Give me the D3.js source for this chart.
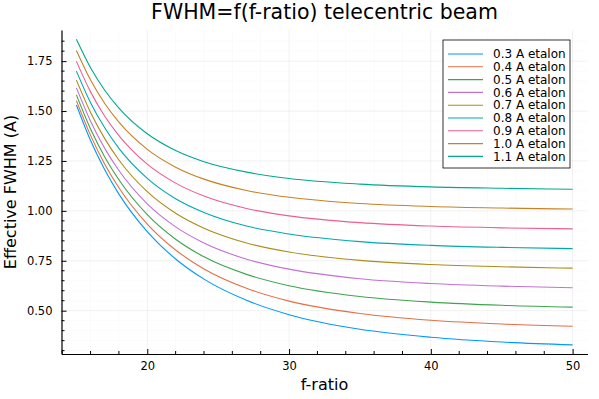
<!DOCTYPE html>
<html lang="en">
	<head>
		<meta charset="utf-8">
		<title>FWHM=f(f-ratio) telecentric beam</title>
		<script type="text/javascript" src="https://cdn.jsdelivr.net/npm/d3@7"></script>
		<style type="text/css">
			body { margin: 0; background: #fff; }
			text { font-family: "DejaVu Sans", sans-serif; fill: #000; }
		</style>
	</head>
	<body>
		<script type="text/javascript">
			//Width and height
			var w = 599;
			var h = 399;

			// f-ratio sample points
			var fRatio = [15, 16, 17, 18, 20, 22, 24, 27, 30, 35, 40, 45, 50];

			// effective FWHM per etalon
			var etalon03 = [1.530, 1.352, 1.206, 1.084, 0.896, 0.759, 0.658, 0.552, 0.480, 0.407, 0.367, 0.343, 0.329];
			var etalon04 = [1.552, 1.378, 1.234, 1.116, 0.934, 0.804, 0.709, 0.612, 0.548, 0.486, 0.452, 0.433, 0.422];
			var etalon05 = [1.581, 1.410, 1.270, 1.156, 0.981, 0.858, 0.770, 0.682, 0.625, 0.571, 0.543, 0.527, 0.518];
			var etalon06 = [1.616, 1.449, 1.313, 1.202, 1.035, 0.920, 0.839, 0.758, 0.708, 0.660, 0.636, 0.623, 0.615];
			var etalon07 = [1.655, 1.493, 1.362, 1.255, 1.096, 0.988, 0.913, 0.839, 0.794, 0.752, 0.731, 0.720, 0.713];
			var etalon08 = [1.700, 1.542, 1.416, 1.313, 1.163, 1.061, 0.992, 0.924, 0.884, 0.846, 0.827, 0.817, 0.811];
			var etalon09 = [1.749, 1.596, 1.474, 1.377, 1.234, 1.139, 1.074, 1.012, 0.975, 0.941, 0.924, 0.915, 0.910];
			var etalon10 = [1.803, 1.655, 1.538, 1.444, 1.308, 1.219, 1.159, 1.102, 1.068, 1.037, 1.022, 1.014, 1.009];
			var etalon11 = [1.860, 1.717, 1.604, 1.515, 1.386, 1.302, 1.246, 1.194, 1.162, 1.134, 1.120, 1.113, 1.108];

			var seriesNames = ["0.3 A etalon", "0.4 A etalon", "0.5 A etalon", "0.6 A etalon", "0.7 A etalon",
			                   "0.8 A etalon", "0.9 A etalon", "1.0 A etalon", "1.1 A etalon"];
			var seriesValues = [etalon03, etalon04, etalon05, etalon06, etalon07, etalon08, etalon09, etalon10, etalon11];

			var xTicks = [20, 30, 40, 50];
			var yTicks = [0.50, 0.75, 1.00, 1.25, 1.50, 1.75];

			var palette = ["#009AFA", "#E36F47", "#3EA44E", "#C371D2", "#AC8D18",
			               "#00A9AD", "#ED5E93", "#C68225", "#00A98D"];

			// plot area
			var plotLeft = 61.5, plotRight = 587.5, plotTop = 30, plotBottom = 354;

			var xMin = d3.min(fRatio), xMax = d3.max(fRatio);
			var yMin = d3.min(seriesValues, function(s) { return d3.min(s); });
			var yMax = d3.max(seriesValues, function(s) { return d3.max(s); });
			var xPad = (xMax - xMin) * 0.03, yPad = (yMax - yMin) * 0.03;

			var x = d3.scaleLinear().domain([xMin - xPad, xMax + xPad]).range([plotLeft, plotRight]);
			var y = d3.scaleLinear().domain([yMin - yPad, yMax + yPad]).range([plotBottom, plotTop]);

			var svg = d3.select("body")
						.append("svg")
						.attr("width", w)
						.attr("height", h);

			// minor grid
			var xMinor = d3.range(14, 52, 2).filter(function(v) { return xTicks.indexOf(v) < 0 && v > x.domain()[0] && v < x.domain()[1]; });
			var yMinor = d3.range(0.30, 1.90, 0.05).map(function(v) { return +v.toFixed(2); })
							.filter(function(v) { return yTicks.indexOf(v) < 0 && v > y.domain()[0] && v < y.domain()[1]; });

			svg.append("g").selectAll("line")
				.data(xMinor).enter().append("line")
				.attr("x1", function(d) { return x(d); }).attr("x2", function(d) { return x(d); })
				.attr("y1", plotTop).attr("y2", plotBottom)
				.style("stroke", "#000").style("stroke-opacity", 0.04).style("stroke-width", 0.6);
			svg.append("g").selectAll("line")
				.data(yMinor).enter().append("line")
				.attr("y1", function(d) { return y(d); }).attr("y2", function(d) { return y(d); })
				.attr("x1", plotLeft).attr("x2", plotRight)
				.style("stroke", "#000").style("stroke-opacity", 0.04).style("stroke-width", 0.6);

			// major grid
			svg.append("g").selectAll("line")
				.data(xTicks).enter().append("line")
				.attr("x1", function(d) { return x(d); }).attr("x2", function(d) { return x(d); })
				.attr("y1", plotTop).attr("y2", plotBottom)
				.style("stroke", "#000").style("stroke-opacity", 0.1).style("stroke-width", 0.6);
			svg.append("g").selectAll("line")
				.data(yTicks).enter().append("line")
				.attr("y1", function(d) { return y(d); }).attr("y2", function(d) { return y(d); })
				.attr("x1", plotLeft).attr("x2", plotRight)
				.style("stroke", "#000").style("stroke-opacity", 0.1).style("stroke-width", 0.6);

			// curves
			var line = d3.line()
						.x(function(d, i) { return x(fRatio[i]); })
						.y(function(d) { return y(d); })
						.curve(d3.curveMonotoneX);

			svg.append("g").selectAll("path")
				.data(seriesValues).enter().append("path")
				.attr("d", line)
				.style("fill", "none")
				.style("stroke", function(d, i) { return palette[i]; })
				.style("stroke-width", 1.1);

			// axes
			var xAxis = d3.axisBottom(x).tickValues(xTicks).tickSizeInner(-5).tickSizeOuter(0).tickPadding(10).tickFormat(d3.format("d"));
			var yAxis = d3.axisLeft(y).tickValues(yTicks).tickSizeInner(-5).tickSizeOuter(0).tickPadding(10).tickFormat(d3.format(".2f"));

			var gx = svg.append("g").attr("transform", "translate(0," + plotBottom + ")").call(xAxis);
			var gy = svg.append("g").attr("transform", "translate(" + plotLeft + ",0)").call(yAxis);

			gx.append("g").selectAll("line")
				.data(xMinor).enter().append("line")
				.attr("x1", function(d) { return x(d); }).attr("x2", function(d) { return x(d); })
				.attr("y1", 0).attr("y2", -3).style("stroke", "#000");
			gy.append("g").selectAll("line")
				.data(yMinor).enter().append("line")
				.attr("y1", function(d) { return y(d); }).attr("y2", function(d) { return y(d); })
				.attr("x1", 0).attr("x2", 3).style("stroke", "#000");

			[gx, gy].forEach(function(g) {
				g.select(".domain").style("stroke", "#000").style("stroke-width", 1.2);
				g.selectAll("text").style("font-family", "DejaVu Sans").style("font-size", "11.5px").style("fill", "#000");
			});
			gy.selectAll(".tick text").attr("x", -9);
			gx.selectAll(".tick text").attr("y", 7.5);

			// title and labels
			svg.append("text")
				.attr("x", (plotLeft + plotRight) / 2).attr("y", 18.5)
				.attr("text-anchor", "middle")
				.style("font-size", "20.5px")
				.text("FWHM=f(f-ratio) telecentric beam");

			svg.append("text")
				.attr("x", (plotLeft + plotRight) / 2).attr("y", 390)
				.attr("text-anchor", "middle")
				.style("font-size", "16px")
				.text("f-ratio");

			svg.append("text")
				.attr("transform", "translate(15.5," + (plotTop + plotBottom) / 2 + ") rotate(-90)")
				.attr("text-anchor", "middle")
				.style("font-size", "16px")
				.text("Effective FWHM (A)");

			// legend
			var legend = svg.append("g").attr("transform", "translate(443,40)");
			legend.append("rect")
				.attr("x", 0).attr("y", 0).attr("width", 127).attr("height", 128)
				.style("fill", "#fff").style("stroke", "#000").style("stroke-width", 0.8);

			var rows = legend.selectAll("g.row")
				.data(seriesNames).enter().append("g")
				.attr("class", "row")
				.attr("transform", function(d, i) { return "translate(0," + (14 + i * 12.8) + ")"; });
			rows.append("line")
				.attr("x1", 5).attr("x2", 40).attr("y1", 0).attr("y2", 0)
				.style("stroke", function(d, i) { return palette[i]; })
				.style("stroke-width", 1.1);
			rows.append("text")
				.attr("x", 50).attr("y", 4.2)
				.style("font-size", "12px")
				.text(function(d) { return d; });
		</script>
	</body>
</html>
